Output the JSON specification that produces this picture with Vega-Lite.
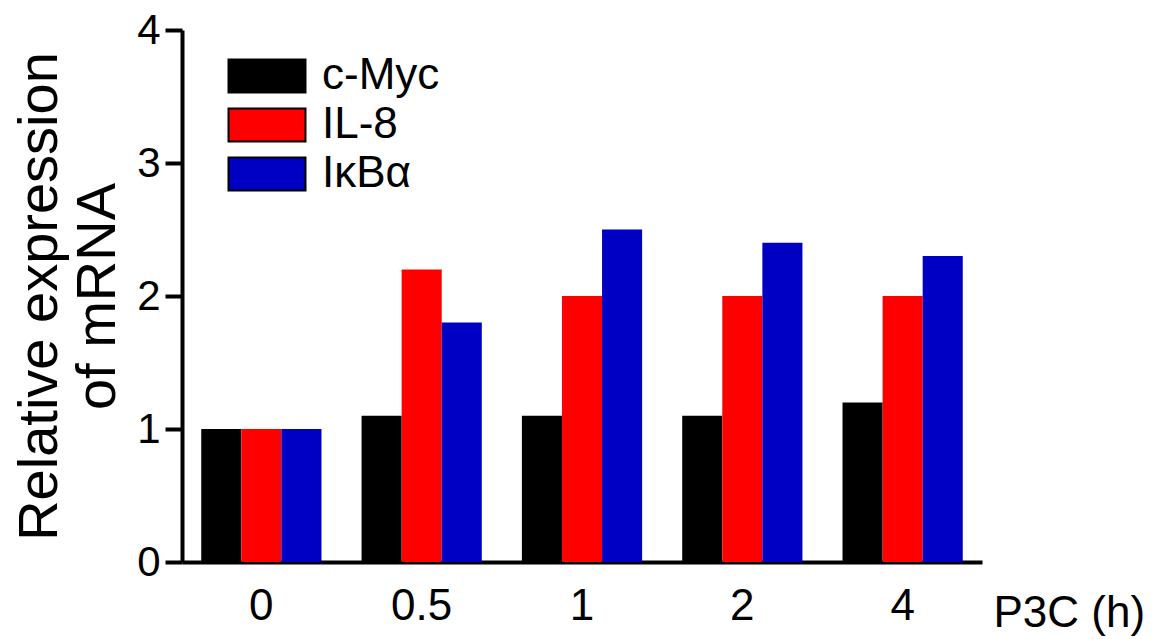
{
  "$schema": "https://vega.github.io/schema/vega-lite/v6.json",
  "autosize": "none",
  "width": 800,
  "height": 532,
  "padding": {"left": 182, "top": 30, "right": 181, "bottom": 77},
  "background": "white",
  "data": {
    "values": [
      {"time": "0", "gene": "c-Myc", "value": 1.0},
      {"time": "0", "gene": "IL-8", "value": 1.0},
      {"time": "0", "gene": "IκBα", "value": 1.0},
      {"time": "0.5", "gene": "c-Myc", "value": 1.1},
      {"time": "0.5", "gene": "IL-8", "value": 2.2},
      {"time": "0.5", "gene": "IκBα", "value": 1.8},
      {"time": "1", "gene": "c-Myc", "value": 1.1},
      {"time": "1", "gene": "IL-8", "value": 2.0},
      {"time": "1", "gene": "IκBα", "value": 2.5},
      {"time": "2", "gene": "c-Myc", "value": 1.1},
      {"time": "2", "gene": "IL-8", "value": 2.0},
      {"time": "2", "gene": "IκBα", "value": 2.4},
      {"time": "4", "gene": "c-Myc", "value": 1.2},
      {"time": "4", "gene": "IL-8", "value": 2.0},
      {"time": "4", "gene": "IκBα", "value": 2.3}
    ]
  },
  "mark": {"type": "bar"},
  "encoding": {
    "x": {
      "field": "time",
      "type": "nominal",
      "sort": ["0", "0.5", "1", "2", "4"],
      "scale": {"paddingInner": 0.25, "paddingOuter": 0.12},
      "axis": {
        "title": "P3C (h)",
        "titleFontSize": 44,
        "titleFontWeight": "normal",
        "titleColor": "black",
        "titleAnchor": "start",
        "titleAlign": "left",
        "titleBaseline": "alphabetic",
        "titleX": 811,
        "titleY": 64,
        "labelAngle": 0,
        "labelFontSize": 44,
        "labelColor": "black",
        "labelPadding": 22,
        "ticks": false,
        "tickSize": 0,
        "domainColor": "black",
        "domainWidth": 4,
        "grid": false
      }
    },
    "xOffset": {
      "field": "gene",
      "type": "nominal",
      "sort": ["c-Myc", "IL-8", "IκBα"],
      "scale": {"paddingInner": 0, "paddingOuter": 0}
    },
    "y": {
      "field": "value",
      "type": "quantitative",
      "scale": {"domain": [0, 4], "nice": false},
      "axis": {
        "title": ["Relative expression", "of mRNA"],
        "values": [0, 1, 2, 3, 4],
        "grid": false,
        "domainColor": "black",
        "domainWidth": 4,
        "tickColor": "black",
        "tickWidth": 4,
        "tickSize": 17,
        "labelFontSize": 42,
        "labelColor": "black",
        "labelPadding": 5,
        "titleFontSize": 56,
        "titleFontWeight": "normal",
        "titleColor": "black",
        "titleLineHeight": 58,
        "titlePadding": 10
      }
    },
    "color": {
      "field": "gene",
      "type": "nominal",
      "sort": ["c-Myc", "IL-8", "IκBα"],
      "scale": {"domain": ["c-Myc", "IL-8", "IκBα"], "range": ["#000000", "#ff0000", "#0000c4"]},
      "legend": {
        "orient": "none",
        "legendX": 63,
        "legendY": 24,
        "title": null,
        "padding": 0,
        "symbolType": "M-2.333,-1H2.333V1H-2.333Z",
        "symbolSize": 1089,
        "symbolStrokeWidth": 2,
        "symbolStrokeColor": "black",
        "symbolOpacity": 1,
        "labelFontSize": 44,
        "labelColor": "black",
        "labelOffset": 33,
        "labelLimit": 0,
        "rowPadding": 5,
        "encode": {
          "symbols": {"update": {"stroke": {"value": "black"}, "strokeWidth": {"value": 2}}}
        }
      }
    }
  },
  "config": {
    "font": "Liberation Sans",
    "view": {"stroke": null}
  }
}
